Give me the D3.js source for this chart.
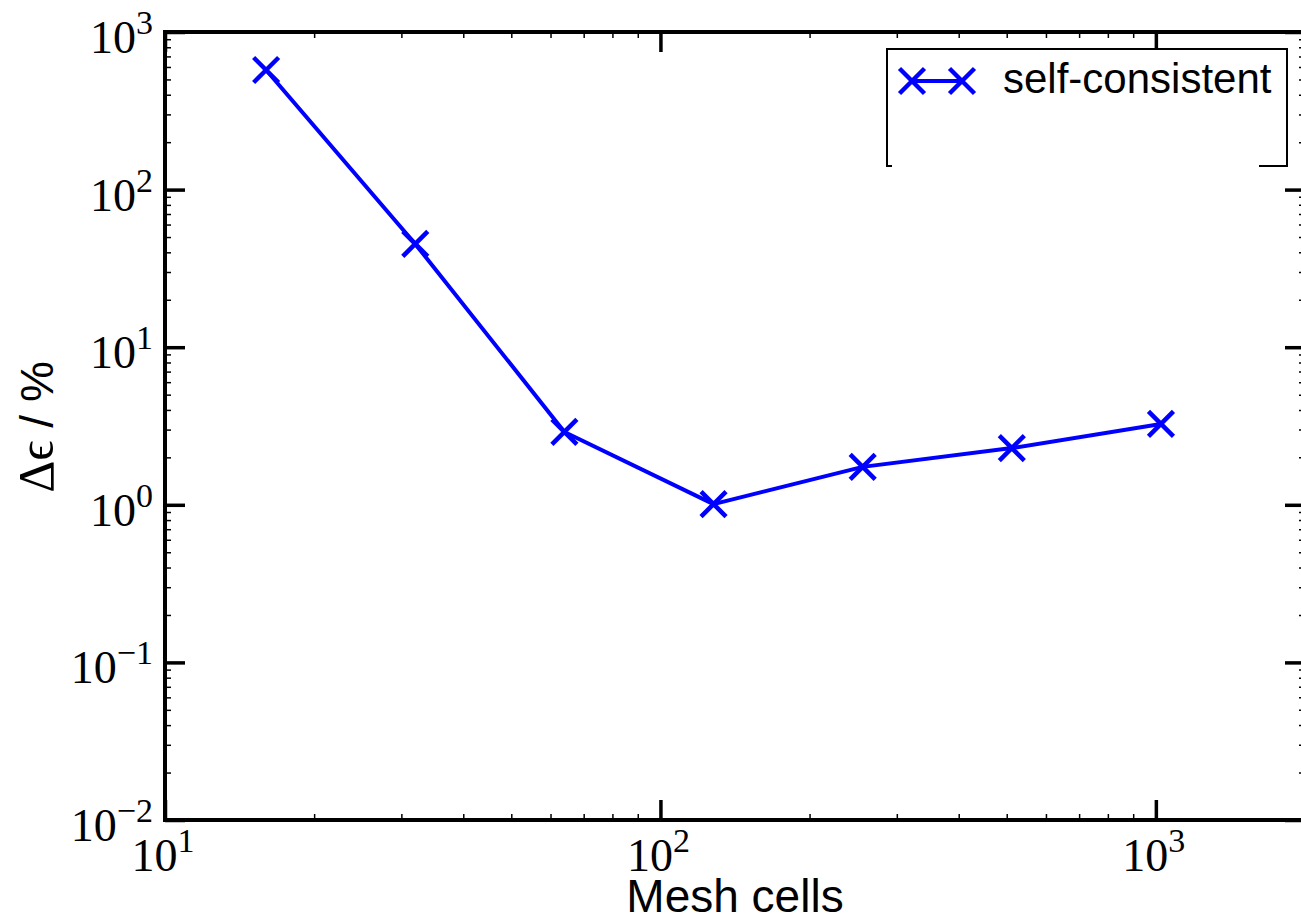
<!DOCTYPE html>
<html>
<head>
<meta charset="utf-8">
<script src="https://cdn.jsdelivr.net/npm/d3@7"></script>
<style>
html,body{margin:0;padding:0;background:#fff;}
svg{display:block;}
</style>
</head>
<body>
<svg id="chart" width="1301" height="921"></svg>
<script>
// ---- data ----
const meshCells = [16, 32, 64, 128, 256, 512, 1024];
const selfConsistent = [574, 45.2, 2.90, 1.01, 1.74, 2.29, 3.26];
const seriesName = "self-consistent";
const xMajorTicks = [10, 100, 1000];
const xTickExponents = ["1", "2", "3"];
const yMajorTicks = [1e-2, 1e-1, 1, 10, 100, 1000];
const yTickExponents = ["\u22122", "\u22121", "0", "1", "2", "3"];
const xLabel = "Mesh cells";

// ---- layout ----
const L = 165, R = 1305, T = 32, B = 820;
const svg = d3.select("#chart");
const x = d3.scaleLog().domain([10, 2000]).range([L, R]);
const y = d3.scaleLog().domain([0.01, 1000]).range([B, T]);

function minors(lo, hi) {
  const out = [];
  for (let d = lo; d < hi; d *= 10)
    for (let k = 2; k <= 9; k++) if (d * k <= hi) out.push(d * k);
  return out;
}
const xMinor = minors(10, 2000);
const yMinor = minors(0.01, 1000);

const axG = svg.append("g");
function styleAxis(g, w) {
  g.select(".domain").remove();
  g.selectAll(".tick text").remove();
  g.selectAll(".tick line").attr("stroke", "#000").attr("stroke-width", w);
}
// inward ticks on all 4 sides
axG.append("g").attr("transform", `translate(${L},0)`)
  .call(d3.axisLeft(y).tickValues(yMajorTicks).tickSize(-20).tickFormat(""))
  .call(g => styleAxis(g, 3.5));
axG.append("g").attr("transform", `translate(${L},0)`)
  .call(d3.axisLeft(y).tickValues(yMinor).tickSize(-6).tickFormat(""))
  .call(g => styleAxis(g, 1.5));
axG.append("g").attr("transform", `translate(${R},0)`)
  .call(d3.axisRight(y).tickValues(yMajorTicks).tickSize(-20).tickFormat(""))
  .call(g => styleAxis(g, 3.5));
axG.append("g").attr("transform", `translate(${R},0)`)
  .call(d3.axisRight(y).tickValues(yMinor).tickSize(-6).tickFormat(""))
  .call(g => styleAxis(g, 1.5));
axG.append("g").attr("transform", `translate(0,${B})`)
  .call(d3.axisBottom(x).tickValues(xMajorTicks).tickSize(-20).tickFormat(""))
  .call(g => styleAxis(g, 3.5));
axG.append("g").attr("transform", `translate(0,${B})`)
  .call(d3.axisBottom(x).tickValues(xMinor).tickSize(-6).tickFormat(""))
  .call(g => styleAxis(g, 1.5));
axG.append("g").attr("transform", `translate(0,${T})`)
  .call(d3.axisTop(x).tickValues(xMajorTicks).tickSize(-20).tickFormat(""))
  .call(g => styleAxis(g, 3.5));
axG.append("g").attr("transform", `translate(0,${T})`)
  .call(d3.axisTop(x).tickValues(xMinor).tickSize(-6).tickFormat(""))
  .call(g => styleAxis(g, 1.5));

// spines
svg.append("rect").attr("x", L).attr("y", T).attr("width", R - L).attr("height", B - T)
  .attr("fill", "none").attr("stroke", "#000").attr("stroke-width", 4);

// tick labels
const serif = "'Liberation Serif','DejaVu Serif',serif";
function powLabel(sel, exp) {
  sel.append("tspan").text("10");
  sel.append("tspan").attr("dy", -19).attr("font-size", 34).text(exp);
}
yMajorTicks.forEach((v, i) => {
  const t = svg.append("text").attr("x", 153).attr("y", y(v) + 21)
    .attr("text-anchor", "end").attr("font-family", serif).attr("font-size", 46).attr("fill", "#000");
  powLabel(t, yTickExponents[i]);
});
xMajorTicks.forEach((v, i) => {
  const t = svg.append("text").attr("x", x(v) - 2).attr("y", 871)
    .attr("text-anchor", "middle").attr("font-family", serif).attr("font-size", 46).attr("fill", "#000");
  powLabel(t, xTickExponents[i]);
});

// axis labels
const sans = "'Liberation Sans',Arial,sans-serif";
svg.append("text").attr("x", 735).attr("y", 912).attr("text-anchor", "middle")
  .attr("font-family", sans).attr("font-size", 46).attr("fill", "#000").text(xLabel);
const yl = svg.append("text").attr("transform", "translate(53,427) rotate(-90)")
  .attr("text-anchor", "middle").attr("fill", "#000").attr("font-size", 46);
yl.append("tspan").attr("font-family", serif).attr("font-size", 50).text("\u0394\u03F5");
yl.append("tspan").attr("font-family", sans).text(" / %");

// line + markers
const blue = "#0000ff";
const pts = meshCells.map((c, i) => [x(c), y(selfConsistent[i])]);
svg.append("path").attr("d", d3.line()(pts)).attr("fill", "none")
  .attr("stroke", blue).attr("stroke-width", 4).attr("stroke-linejoin", "round");
function cross(g, cx, cy, s) {
  g.append("path").attr("d", `M${cx - s},${cy - s}L${cx + s},${cy + s}M${cx - s},${cy + s}L${cx + s},${cy - s}`)
    .attr("stroke", blue).attr("stroke-width", 4.5).attr("fill", "none");
}
const mk = svg.append("g");
pts.forEach(p => cross(mk, p[0], p[1], 12.5));

// legend
const lg = svg.append("g");
lg.append("rect").attr("x", 887).attr("y", 49).attr("width", 400).attr("height", 117)
  .attr("fill", "#fff").attr("stroke", "#000").attr("stroke-width", 2);
lg.append("line").attr("x1", 912).attr("x2", 962).attr("y1", 81).attr("y2", 81)
  .attr("stroke", blue).attr("stroke-width", 4);
cross(lg, 912, 81, 12.5);
cross(lg, 962, 81, 12.5);
lg.append("text").attr("x", 1003).attr("y", 93).attr("font-family", sans)
  .attr("font-size", 42).attr("fill", "#000").text(seriesName);
// masked lower part of legend
lg.append("rect").attr("x", 892).attr("y", 131).attr("width", 367).attr("height", 40).attr("fill", "#fff");
</script>
</body>
</html>
